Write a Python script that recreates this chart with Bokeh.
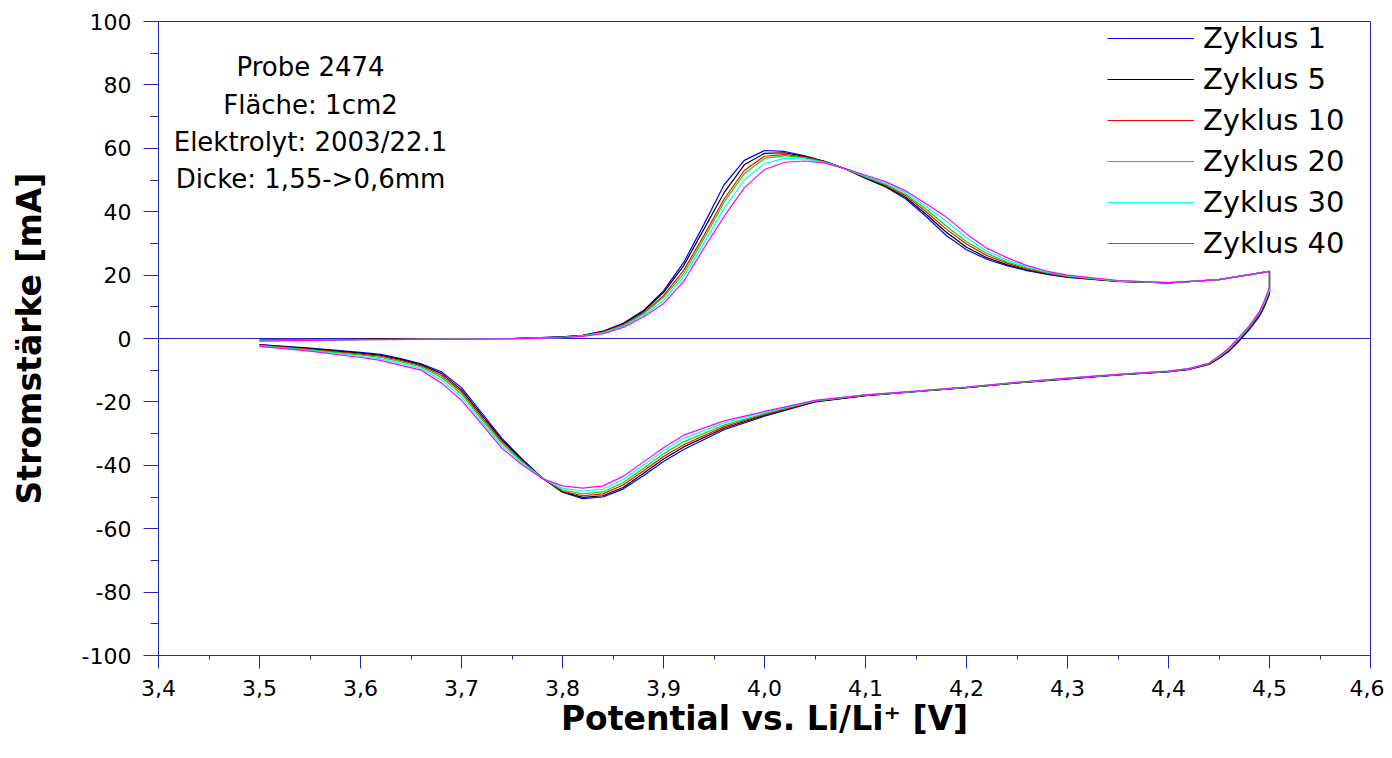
from bokeh.plotting import figure
from bokeh.models import Range1d, Span, Label, Legend, LegendItem, CustomJSTickFormatter, FixedTicker
from bokeh.embed import file_html
from bokeh.resources import INLINE

# ---------------- data ----------------
cycle_labels = ["Zyklus 1", "Zyklus 5", "Zyklus 10", "Zyklus 20", "Zyklus 30", "Zyklus 40"]
cycle_colors = ["#0000ff", "#000000", "#ff0000", "#00e000", "#00ffff", "#ff00ff"]

# anodic (forward) sweep potentials [V]
potential_fwd = [3.50, 3.55, 3.60, 3.65, 3.70, 3.75, 3.80, 3.82,
                 3.84, 3.86, 3.88, 3.90, 3.92, 3.94, 3.96, 3.98, 4.00, 4.02, 4.04, 4.06, 4.08, 4.10,
                 4.12, 4.14, 4.16, 4.18, 4.20, 4.22, 4.24, 4.26, 4.28, 4.30, 4.35, 4.40, 4.45, 4.50]
# cathodic (reverse) sweep potentials [V]
potential_rev = [4.50, 4.495, 4.49, 4.48, 4.47, 4.46, 4.45, 4.44, 4.42, 4.40, 4.35, 4.30, 4.25,
                 4.20, 4.15, 4.10, 4.05, 4.00, 3.96, 3.92, 3.90, 3.88, 3.86, 3.84, 3.82, 3.80,
                 3.78, 3.76, 3.74, 3.72, 3.70, 3.68, 3.66, 3.64, 3.62, 3.60, 3.55, 3.50]

# currents [mA], forward sweep
current_fwd_1 = [-0.5, -0.4, -0.3, -0.2, -0.1, 0.0, 0.5, 1.0,
                 2.3, 4.8, 8.8, 15.0, 24.0, 36.0, 48.5, 56.2, 59.3, 59.0, 57.6, 55.8, 53.5, 50.5,
                 47.8, 44.0, 38.5, 32.5, 28.0, 25.0, 23.0, 21.4, 20.2, 19.3, 18.0, 17.5, 18.6, 21.2]
current_fwd_5 = [-0.6, -0.4, -0.3, -0.2, -0.1, 0.0, 0.5, 1.0,
                 2.2, 4.6, 8.5, 14.5, 23.0, 34.5, 46.0, 54.8, 58.4, 58.6, 57.4, 55.8, 53.5, 50.7,
                 48.0, 44.5, 39.2, 33.5, 28.8, 25.5, 23.3, 21.6, 20.4, 19.4, 18.0, 17.5, 18.6, 21.2]
current_fwd_10 = [-0.6, -0.5, -0.3, -0.2, -0.1, 0.0, 0.4, 0.9,
                  2.0, 4.3, 8.0, 13.5, 21.5, 32.5, 44.0, 53.0, 57.5, 58.1, 57.2, 55.7, 53.5, 50.9,
                  48.3, 45.0, 40.0, 34.5, 29.8, 26.2, 23.8, 21.9, 20.6, 19.5, 18.1, 17.5, 18.6, 21.2]
current_fwd_20 = [-0.7, -0.5, -0.4, -0.3, -0.1, 0.0, 0.4, 0.8,
                  1.9, 4.1, 7.7, 13.0, 20.5, 31.5, 43.0, 52.0, 56.8, 57.7, 57.0, 55.6, 53.5, 51.0,
                  48.6, 45.4, 40.8, 35.5, 30.5, 26.8, 24.2, 22.2, 20.8, 19.7, 18.2, 17.6, 18.6, 21.2]
current_fwd_30 = [-0.7, -0.5, -0.4, -0.3, -0.2, -0.1, 0.3, 0.8,
                  1.7, 3.8, 7.2, 12.0, 19.5, 30.0, 41.0, 50.0, 55.2, 56.8, 56.6, 55.5, 53.6, 51.3,
                  49.0, 46.0, 41.7, 37.0, 31.8, 27.6, 24.8, 22.6, 21.0, 19.8, 18.2, 17.6, 18.6, 21.2]
current_fwd_40 = [-0.8, -0.6, -0.4, -0.3, -0.2, -0.1, 0.3, 0.7,
                  1.5, 3.5, 6.8, 11.0, 18.0, 28.5, 38.5, 47.5, 53.3, 55.6, 56.0, 55.3, 53.6, 51.5,
                  49.5, 46.5, 42.5, 38.3, 33.0, 28.5, 25.5, 23.0, 21.2, 20.0, 18.3, 17.6, 18.6, 21.2]

# currents [mA], reverse sweep
current_rev_1 = [14.0, 10.0, 7.0, 2.8, -0.8, -4.0, -6.3, -8.2, -9.8, -10.5, -11.5, -12.8, -14.0,
                 -15.5, -16.8, -18.0, -20.0, -24.5, -28.8, -35.0, -38.8, -43.3, -47.5, -50.0, -50.5, -48.5,
                 -44.0, -38.0, -31.5, -23.5, -15.5, -10.5, -8.0, -6.3, -5.0, -4.4, -3.0, -1.9]
current_rev_5 = [14.5, 10.5, 7.5, 3.2, -0.4, -3.8, -6.1, -8.1, -9.7, -10.4, -11.5, -12.7, -14.0,
                 -15.5, -16.7, -18.0, -19.9, -24.2, -28.3, -34.2, -38.0, -42.6, -47.0, -49.6, -50.1, -48.4,
                 -44.0, -38.3, -32.0, -24.2, -16.2, -11.0, -8.3, -6.6, -5.3, -4.6, -3.2, -2.0]
current_rev_10 = [14.8, 10.8, 7.8, 3.4, -0.2, -3.6, -6.0, -8.0, -9.7, -10.4, -11.4, -12.7, -13.9,
                  -15.4, -16.7, -17.9, -19.8, -24.0, -27.8, -33.5, -37.2, -41.8, -46.2, -49.0, -49.6, -48.2,
                  -44.0, -38.6, -32.5, -24.8, -16.8, -11.6, -8.6, -6.9, -5.6, -4.9, -3.4, -2.1]
current_rev_20 = [15.2, 11.2, 8.0, 3.6, 0.0, -3.4, -5.8, -7.9, -9.6, -10.4, -11.4, -12.6, -13.9,
                  -15.4, -16.7, -17.9, -19.7, -23.7, -27.3, -32.6, -36.4, -41.0, -45.5, -48.4, -49.0, -47.8,
                  -44.0, -38.9, -33.1, -25.5, -17.5, -12.2, -9.0, -7.3, -6.0, -5.2, -3.6, -2.2]
current_rev_30 = [15.6, 11.6, 8.3, 3.8, 0.3, -3.2, -5.6, -7.8, -9.5, -10.3, -11.3, -12.5, -13.8,
                  -15.3, -16.6, -17.8, -19.6, -23.3, -26.6, -31.5, -35.4, -40.0, -44.5, -47.5, -48.1, -47.2,
                  -44.1, -39.3, -33.8, -26.3, -18.5, -13.1, -9.5, -7.9, -6.4, -5.6, -3.8, -2.4]
current_rev_40 = [16.0, 12.0, 8.5, 4.0, 0.5, -3.0, -5.5, -7.8, -9.5, -10.3, -11.3, -12.5, -13.8,
                  -15.3, -16.6, -17.8, -19.5, -23.0, -26.0, -30.5, -34.5, -39.0, -43.5, -46.5, -47.2, -46.5,
                  -44.2, -39.8, -34.6, -27.0, -19.5, -14.0, -10.0, -8.5, -6.9, -6.0, -4.0, -2.5]

current_fwd = [current_fwd_1, current_fwd_5, current_fwd_10, current_fwd_20, current_fwd_30, current_fwd_40]
current_rev = [current_rev_1, current_rev_5, current_rev_10, current_rev_20, current_rev_30, current_rev_40]

x_ticks = [3.4, 3.5, 3.6, 3.7, 3.8, 3.9, 4.0, 4.1, 4.2, 4.3, 4.4, 4.5, 4.6]
y_ticks = [-100, -80, -60, -40, -20, 0, 20, 40, 60, 80, 100]

info_lines = ["Probe 2474", "Fläche: 1cm2", "Elektrolyt: 2003/22.1", "Dicke: 1,55->0,6mm"]

# ---------------- figure ----------------
AX = "#2323b4"
FONT = "DejaVu Sans"

p = figure(width=1384, height=750, output_backend="svg", toolbar_location=None,
           x_range=Range1d(3.4, 4.6), y_range=Range1d(-100, 100),
           min_border_left=158, min_border_right=14, min_border_top=21, min_border_bottom=95)
p.background_fill_color = "white"
p.border_fill_color = "white"
p.outline_line_color = AX
p.outline_line_width = 1
p.xgrid.visible = False
p.ygrid.visible = False

p.add_layout(Span(location=0, dimension="width", line_color=AX, line_width=1, level="underlay"))

renderers = []
for lab, col, fwd, rev in zip(cycle_labels, cycle_colors, current_fwd, current_rev):
    xs = potential_fwd + potential_rev
    ys = fwd + rev
    r = p.line(xs, ys, line_color=col, line_width=1.2)
    renderers.append((lab, r))

# axes
xa = p.xaxis[0]
xa.ticker = FixedTicker(ticks=x_ticks, minor_ticks=[3.45 + 0.1 * i for i in range(12)])
xa.formatter = CustomJSTickFormatter(code="return tick.toFixed(1).replace('.', ',');")
xa.axis_line_color = AX
xa.major_tick_line_color = AX
xa.minor_tick_line_color = AX
xa.major_tick_out = 13
xa.major_tick_in = 0
xa.minor_tick_out = 4
xa.minor_tick_in = 0
xa.major_label_text_font = FONT
xa.major_label_text_font_size = "22px"
xa.major_label_text_color = "black"
xa.major_label_standoff = 11
xa.axis_label = "Potential vs. Li/Li\u207a [V]"
xa.axis_label_text_font = FONT
xa.axis_label_text_font_style = "bold"
xa.axis_label_text_font_size = "33px"
xa.axis_label_text_color = "black"
xa.axis_label_standoff = 0

ya = p.yaxis[0]
ya.ticker = FixedTicker(ticks=y_ticks, minor_ticks=[-90 + 20 * i for i in range(10)])
ya.formatter = CustomJSTickFormatter(code="return tick.toFixed(0);")
ya.axis_line_color = AX
ya.major_tick_line_color = AX
ya.minor_tick_line_color = AX
ya.major_tick_out = 15
ya.major_tick_in = 0
ya.minor_tick_out = 8
ya.minor_tick_in = 0
ya.major_label_text_font = FONT
ya.major_label_text_font_size = "22px"
ya.major_label_text_color = "black"
ya.major_label_standoff = 12
ya.axis_label = "Stromstärke [mA]"
ya.axis_label_text_font = FONT
ya.axis_label_text_font_style = "bold"
ya.axis_label_text_font_size = "33px"
ya.axis_label_text_color = "black"
ya.axis_label_standoff = 30

# info text block
info_y = [85.5, 73.8, 62.1, 50.2]
for txt, yy in zip(info_lines, info_y):
    p.add_layout(Label(x=3.5505, y=yy, text=txt, text_align="center", text_baseline="middle",
                       text_font=FONT, text_font_size="26px", text_color="black"))

legend = Legend(items=[LegendItem(label=lab, renderers=[r]) for lab, r in renderers],
                location=(949, 395), margin=0, padding=0, spacing=7,
                glyph_width=87, glyph_height=34, label_height=34, label_standoff=9,
                label_text_font=FONT, label_text_font_size="29px", label_text_color="black",
                border_line_alpha=0, background_fill_alpha=0)
p.add_layout(legend)

open("out.html", "w").write(file_html(p, INLINE))
